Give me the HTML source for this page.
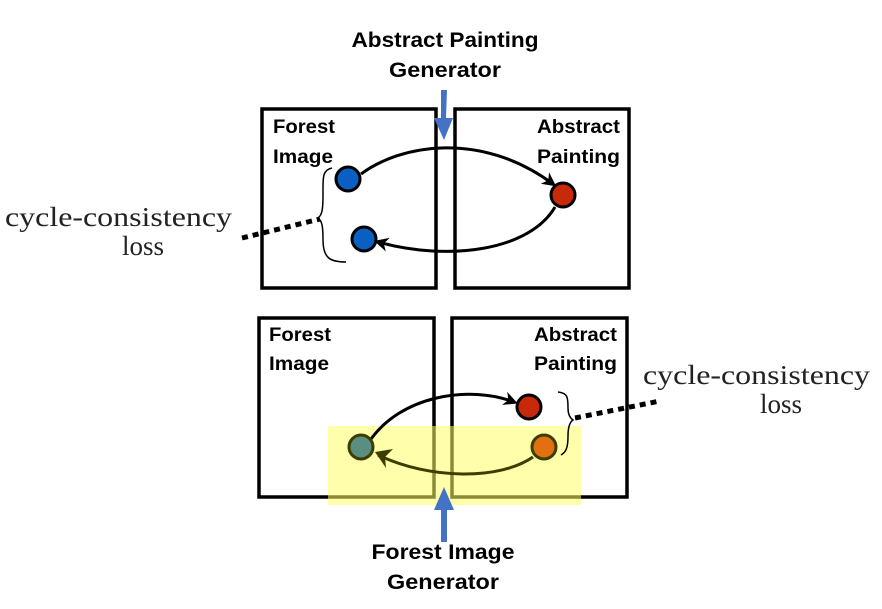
<!DOCTYPE html>
<html><head><style>html,body{margin:0;padding:0;background:#fff}</style></head>
<body>
<svg width="882" height="604" viewBox="0 0 882 604" xmlns="http://www.w3.org/2000/svg">
<defs>
<marker id="ah" markerWidth="10" markerHeight="10" refX="8" refY="5" orient="auto" markerUnits="userSpaceOnUse">
<path d="M0,0 L10,5 L0,10 L3,5 Z" fill="#000"/></marker>
<marker id="ah2" markerWidth="14" markerHeight="14" refX="10" refY="7" orient="auto" markerUnits="userSpaceOnUse">
<path d="M0,0 L14,7 L0,14 L4,7 Z" fill="#000"/></marker>
</defs>
<g font-family="Liberation Sans, sans-serif" font-weight="bold" fill="#000">
<text x="445" y="47" font-size="21" text-anchor="middle" textLength="187" lengthAdjust="spacingAndGlyphs">Abstract Painting</text>
<text x="445" y="77" font-size="21" text-anchor="middle" textLength="112" lengthAdjust="spacingAndGlyphs">Generator</text>
<text x="443" y="559" font-size="21" text-anchor="middle" textLength="143" lengthAdjust="spacingAndGlyphs">Forest Image</text>
<text x="443" y="589" font-size="21" text-anchor="middle" textLength="112" lengthAdjust="spacingAndGlyphs">Generator</text>
<text x="273" y="133" font-size="19" textLength="62" lengthAdjust="spacingAndGlyphs">Forest</text>
<text x="273" y="163" font-size="19" textLength="60" lengthAdjust="spacingAndGlyphs">Image</text>
<text x="620" y="133" font-size="19" text-anchor="end" textLength="83" lengthAdjust="spacingAndGlyphs">Abstract</text>
<text x="620" y="163" font-size="19" text-anchor="end" textLength="83" lengthAdjust="spacingAndGlyphs">Painting</text>
<text x="269" y="341" font-size="19" textLength="62" lengthAdjust="spacingAndGlyphs">Forest</text>
<text x="269" y="370" font-size="19" textLength="60" lengthAdjust="spacingAndGlyphs">Image</text>
<text x="617" y="341" font-size="19" text-anchor="end" textLength="83" lengthAdjust="spacingAndGlyphs">Abstract</text>
<text x="617" y="370" font-size="19" text-anchor="end" textLength="83" lengthAdjust="spacingAndGlyphs">Painting</text>
</g>
<g font-family="Liberation Serif, serif" font-size="27" fill="#222">
<text x="5" y="226" textLength="227" lengthAdjust="spacingAndGlyphs">cycle-consistency</text>
<text x="143" y="255" text-anchor="middle">loss</text>
<text x="643" y="384" textLength="227" lengthAdjust="spacingAndGlyphs">cycle-consistency</text>
<text x="781" y="413" text-anchor="middle">loss</text>
</g>
<g fill="none" stroke="#000" stroke-width="3.5">
<rect x="262" y="109" width="174" height="179"/>
<rect x="455" y="109" width="174" height="179"/>
<rect x="259" y="318" width="175" height="179"/>
<rect x="452" y="318" width="175" height="179"/>
</g>
<rect x="328" y="426" width="253" height="79" fill="#ffff66" fill-opacity="0.55"/>
<!-- top arrows -->
<g fill="none" stroke="#000" stroke-width="3">
<path d="M361,174 C400,145 480,130 553,184" marker-end="url(#ah2)"/>
<path d="M555,207 C530,250 450,262 378,242" marker-end="url(#ah2)"/>
<path d="M369,442 C400,395 470,385 514,402" marker-end="url(#ah2)"/>
</g>
<path d="M533,457 C500,480 430,480 378,455" fill="none" stroke="#3d3d00" stroke-width="3"/>
<path d="M375,452 L393,449 L385,457 L386,468 Z" fill="#3d3d00"/>
<!-- braces -->
<g fill="none" stroke="#000" stroke-width="1.5">
<path d="M332,168 C322,170 323,178 323,195 C323,210 322,215 318,218 C322,221 323,226 323,240 C323,258 330,262 346,262"/>
<path d="M558,392 C568,393 568,398 568,408 C568,414 570,418 573,420 C570,422 568,426 568,436 C568,448 566,452 561,455"/>
</g>
<g stroke="#000" stroke-width="5" stroke-dasharray="6,5">
<line x1="242" y1="238" x2="320" y2="219"/>
<line x1="575" y1="418" x2="660" y2="401"/>
</g>
<!-- circles -->
<g stroke="#000" stroke-width="3">
<circle cx="348" cy="179" r="12" fill="#0a5fc2"/>
<circle cx="563" cy="195" r="12" fill="#c8290a"/>
<circle cx="364" cy="239" r="12" fill="#0a5fc2"/>
<circle cx="529" cy="407" r="12" fill="#c8290a"/>
</g>
<g stroke="#3d3d00" stroke-width="3">
<circle cx="361" cy="447" r="12" fill="#5a8e80"/>
<circle cx="544" cy="447" r="12" fill="#e07010"/>
</g>
<!-- blue arrows -->
<path d="M441,90 L447,90 L446,118 L453,118 L444,140 L434,118 L441,118 Z" fill="#4472c4"/>
<path d="M441,542 L447,542 L447,510 L454,510 L444,487 L434,510 L441,510 Z" fill="#4472c4"/>
</svg>
</body></html>
